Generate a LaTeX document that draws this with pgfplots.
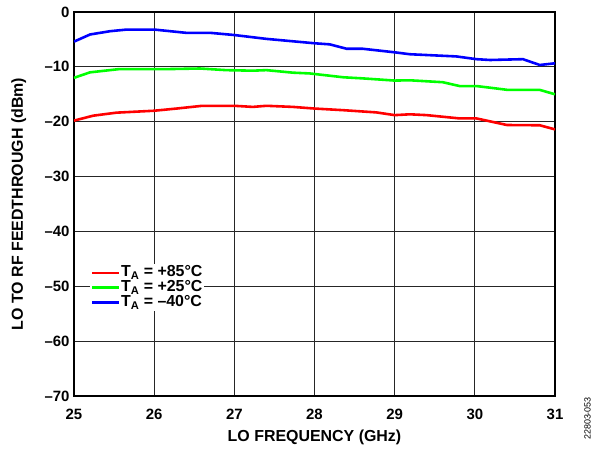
\documentclass[border=0pt]{standalone}
\usepackage{pgfplots}
\pgfplotsset{compat=1.18}
\usepackage{fontspec}
\setmainfont{Liberation Sans}
\definecolor{cred}{RGB}{255,0,0}
\definecolor{cgreen}{RGB}{0,255,0}
\definecolor{cblue}{RGB}{0,0,255}
\begin{document}
\begin{tikzpicture}
\begin{axis}[
  at={(0,0)}, anchor=south west,
  scale only axis,
  width=481bp, height=384bp,
  xmin=25, xmax=31, ymin=-70, ymax=0,
  xtick={25,...,31}, ytick={-70,-60,...,0},
  xticklabels={25,26,27,28,29,30,31},
  yticklabels={–70,–60,–50,–40,–30,–20,–10,0},
  grid=major,
  major grid style={black!85, line width=0.9pt},
  axis line style={black, line width=1.8pt},
  major tick length=0pt,
  tick label style={font=\fontsize{15}{16}\selectfont\bfseries},
  xticklabel style={yshift=-9.5bp},
  yticklabel style={xshift=-1bp},
  xlabel={\fontsize{16}{18}\selectfont\bfseries LO FREQUENCY (GHz)},
  ylabel={\fontsize{16}{18}\selectfont\bfseries LO TO RF FEEDTHROUGH (dBm)},
  xlabel style={at={(axis description cs:0.5,-0.109)}, anchor=center},
  ylabel style={at={(axis description cs:-0.115,0.5)}, anchor=center},
  legend style={at={(0.0326,0.343)}, anchor=north west, draw=none, fill=white,
    font=\fontsize{16}{16}\selectfont\bfseries, inner sep=1bp, row sep=0pt,
    nodes={inner sep=1bp, text height=10.5bp, text depth=2.3bp},
    legend cell align=left},
  legend image code/.code={\draw[#1, line width=2.6pt] (0bp,0bp) -- (26.6bp,0bp);},
  every axis plot/.append style={line width=2.6pt},
]
\addplot[cred] coordinates {
(25.0,-19.8)(25.24,-18.9)(25.53,-18.35)(26.0,-18.0)(26.28,-17.6)(26.6,-17.1)
(27.0,-17.1)(27.23,-17.3)(27.4,-17.1)(27.73,-17.3)(28.0,-17.6)(28.36,-17.9)
(28.77,-18.3)(29.0,-18.8)(29.19,-18.65)(29.4,-18.8)(29.81,-19.4)(30.02,-19.4)
(30.4,-20.6)(30.81,-20.65)(31.0,-21.4)};
\addlegendentry{T\textsubscript{A} = +85°C}
\addplot[cgreen] coordinates {
(25.0,-12.0)(25.2,-11.0)(25.57,-10.4)(26.0,-10.4)(26.2,-10.4)(26.57,-10.3)
(26.9,-10.6)(27.23,-10.7)(27.4,-10.6)(27.73,-11.06)(27.94,-11.2)(28.36,-11.9)
(28.6,-12.1)(29.0,-12.5)(29.19,-12.45)(29.6,-12.8)(29.81,-13.5)(30.02,-13.5)
(30.19,-13.8)(30.41,-14.2)(30.81,-14.2)(31.0,-15.0)};
\addlegendentry{T\textsubscript{A} = +25°C}
\addplot[cblue] coordinates {
(25.0,-5.4)(25.2,-4.1)(25.45,-3.5)(25.66,-3.2)(26.0,-3.2)(26.4,-3.8)
(26.7,-3.8)(27.0,-4.2)(27.4,-4.9)(28.0,-5.7)(28.19,-5.9)(28.4,-6.7)
(28.6,-6.7)(29.0,-7.35)(29.19,-7.7)(29.77,-8.1)(30.02,-8.6)(30.19,-8.75)
(30.6,-8.6)(30.81,-9.66)(31.0,-9.35)};
\addlegendentry{T\textsubscript{A} = –40°C}
\end{axis}
\node[rotate=90, anchor=center, font=\fontsize{9}{10}\selectfont] at (513.5bp,-22.5bp) {22803-053};
\pgfresetboundingbox
\path (-74bp,-53bp) rectangle (521bp,396bp);
\end{tikzpicture}
\end{document}
